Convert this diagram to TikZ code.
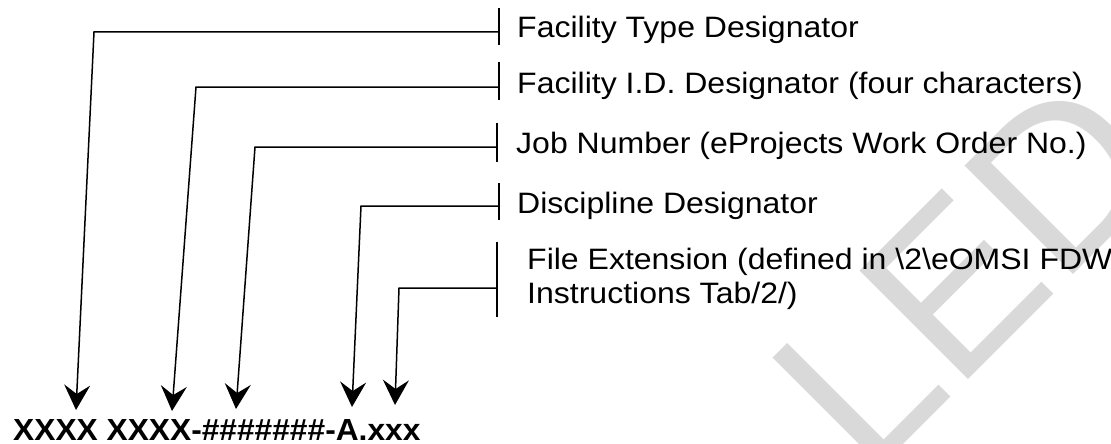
\documentclass[tikz,border=0pt]{standalone}
\usepackage{fontspec}
\setmainfont{Liberation Sans}
\usetikzlibrary{arrows.meta}
\definecolor{wmgray}{RGB}{217,217,217}
\begin{document}
\begin{tikzpicture}[x=1pt,y=-1pt,
  conn/.style={line width=1.5pt, line join=miter},
  arr/.style={conn, -{Stealth[length=25pt,width=26pt,inset=9pt]}},
  tickbar/.style={line width=1.5pt},
  lbl/.style={anchor=base west, inner sep=0pt, font=\fontsize{29.5}{34}\selectfont, xscale=1.085, align=left},
  code/.style={anchor=base west, inner sep=0pt, font=\bfseries\fontsize{30.5}{34}\selectfont, xscale=1.04},
  wm/.style={anchor=base west, inner sep=0pt, text=wmgray, font=\fontsize{223}{223}\selectfont, rotate=45}]
\useasboundingbox (0,0) rectangle (1111,444);
\begin{scope}
\clip (0,0) rectangle (1111,444);
\node[wm] (mark) at (868,480) {LED};
\end{scope}
% labels
\node[lbl] (l1) at (517,38) {Facility Type Designator};
\node[lbl] (l2) at (517,93) {Facility I.D. Designator (four characters)};
\node[lbl] (l3) at (516,153) {Job Number (eProjects Work Order No.)};
\node[lbl] (l4) at (517,213) {Discipline Designator};
\node[lbl] (l5) at (527,303) {File Extension (defined in \textbackslash 2\textbackslash eOMSI FDW\\Instructions Tab/2/)};
\node[code] (code) at (13,440) {XXXX XXXX-\#\#\#\#\#\#\#-A.xxx};
% bars
\coordinate (b1t) at (499,8);   \coordinate (b1b) at (499,45);  \coordinate (h1) at (499,32);
\coordinate (b2t) at (499,62);  \coordinate (b2b) at (499,100); \coordinate (h2) at (499,87);
\coordinate (b3t) at (497,123); \coordinate (b3b) at (497,162); \coordinate (h3) at (497,147);
\coordinate (b4t) at (499,183); \coordinate (b4b) at (499,220); \coordinate (h4) at (499,206);
\coordinate (b5t) at (497,242); \coordinate (b5b) at (497,317); \coordinate (h5) at (497,288);
% corners and tips
\coordinate (c1) at (94,32);   \coordinate (t1) at (76,410);
\coordinate (c2) at (196,87);  \coordinate (t2) at (172,411);
\coordinate (c3) at (255,147); \coordinate (t3) at (236,409);
\coordinate (c4) at (361,206); \coordinate (t4) at (352,407);
\coordinate (c5) at (399,288); \coordinate (t5) at (395,405);
\foreach \i in {1,...,5}{
  \draw[tickbar] (b\i t) -- (b\i b);
  \draw[arr] (h\i) -- (c\i) -- (t\i);
}
\end{tikzpicture}
\end{document}
